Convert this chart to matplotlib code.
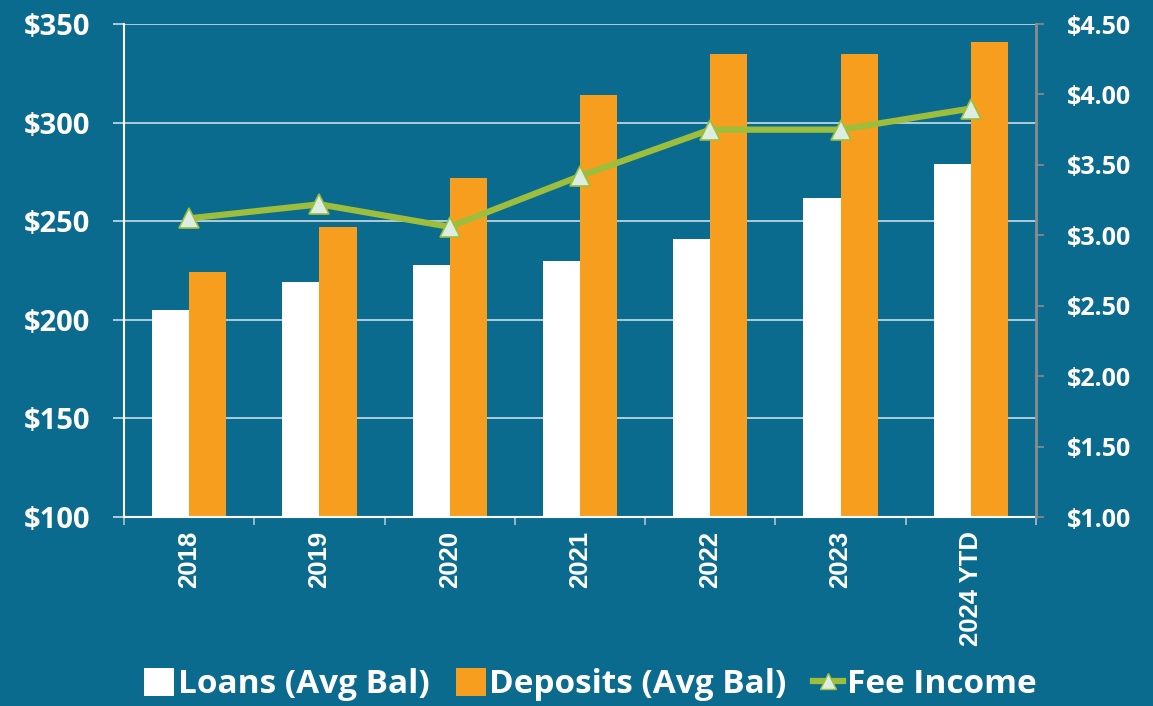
import matplotlib
matplotlib.use('Agg')
import matplotlib.pyplot as plt
import numpy as np
from matplotlib.lines import Line2D
from matplotlib.patches import Patch

years = ['2018', '2019', '2020', '2021', '2022', '2023', '2024 YTD']
loans = [205, 219, 228, 230, 241, 262, 279]
deposits = [224, 247, 272, 314, 335, 335, 341]
fee_income = [3.12, 3.22, 3.06, 3.42, 3.75, 3.75, 3.90]

bg = '#0B6B8E'
orange = '#F79E1E'
green = '#9DBE3D'

fig = plt.figure(figsize=(11.53, 7.06), dpi=100, facecolor=bg)
ax = fig.add_axes([0.1075, 0.2677, 0.791, 0.6983])
ax.set_facecolor(bg)

x = np.arange(len(years))
w = 0.285
ax.bar(x - w / 2, loans, w, color='white', zorder=2)
ax.bar(x + w / 2, deposits, w, color=orange, zorder=2)

ax.set_ylim(100, 350)
ax.set_xlim(-0.5, len(years) - 0.5)
ax.set_yticks(range(100, 351, 50))
ax.set_yticklabels(['$%d' % v for v in range(100, 351, 50)])
ax.grid(axis='y', color='#C8DDE8', linewidth=1.2, zorder=0)
ax.set_axisbelow(True)

ax.set_xticks(x)
ax.set_xticklabels(years, rotation=90, fontfamily='Liberation Sans',
                   fontweight='bold', fontsize=18.5, color='white')
ax.set_xticks(np.arange(-0.5, len(years)), minor=True)
ax.tick_params(axis='x', which='major', length=0, pad=10)
ax.tick_params(axis='x', which='minor', length=6, color='#A9C6D4', width=1.2)
ax.tick_params(axis='y', length=8, color='#C8DDE8', width=1.2, pad=16,
               labelcolor='white', labelsize=21)
for lbl in ax.get_yticklabels():
    lbl.set_fontfamily('Open Sans')
    lbl.set_fontweight('bold')

for s in ['top', 'right']:
    ax.spines[s].set_visible(False)
ax.spines['left'].set_color('white')
ax.spines['left'].set_linewidth(1.5)
ax.spines['bottom'].set_color('white')
ax.spines['bottom'].set_linewidth(1.5)

ax2 = ax.twinx()
ax2.plot(x, fee_income, color=green, linewidth=4.5, marker='^', markersize=14,
         markerfacecolor='#DDEDE2', markeredgecolor=green, markeredgewidth=1.2,
         zorder=5)
ax2.set_ylim(1.0, 4.5)
ax2.set_yticks(np.arange(1.0, 4.51, 0.5))
ax2.set_yticklabels(['$%.2f' % v for v in np.arange(1.0, 4.51, 0.5)])
ax2.tick_params(axis='y', length=6, color='#8C8C8C', width=1.2, pad=16,
                labelcolor='white', labelsize=18)
for lbl in ax2.get_yticklabels():
    lbl.set_fontfamily('Open Sans')
    lbl.set_fontweight('bold')
for s in ['top', 'left', 'bottom']:
    ax2.spines[s].set_visible(False)
ax2.spines['right'].set_color('#8C8C8C')
ax2.spines['right'].set_linewidth(2)

handles = [
    Patch(facecolor='white', label='Loans (Avg Bal)'),
    Patch(facecolor=orange, label='Deposits (Avg Bal)'),
    Line2D([0], [0], color=green, linewidth=4.5, marker='^', markersize=12,
           markerfacecolor='#DDEDE2', markeredgecolor=green,
           label='Fee Income'),
]
leg = fig.legend(handles=handles, loc='center', bbox_to_anchor=(0.512, 0.03),
                 ncol=3, frameon=False, handlelength=0.9, handleheight=0.9,
                 handletextpad=0.1, columnspacing=0.8,
                 prop={'family': 'Open Sans', 'weight': 'bold', 'size': 24})
for t in leg.get_texts():
    t.set_color('white')

fig.savefig('out.png', dpi=100, facecolor=bg)
